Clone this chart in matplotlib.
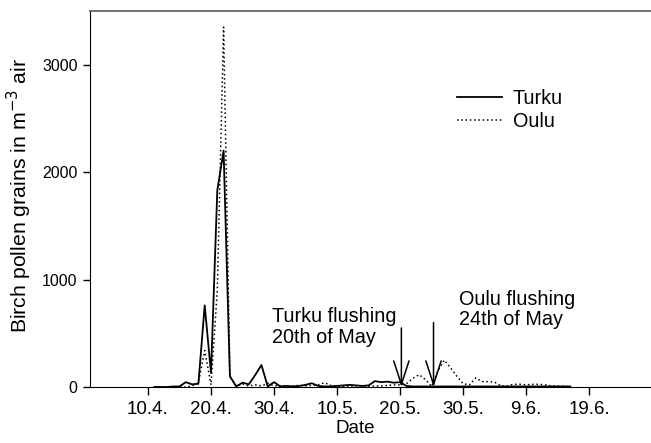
import matplotlib
matplotlib.use("Agg")
import matplotlib.pyplot as plt
import numpy as np

plt.rcParams["font.family"] = ["Liberation Sans", "DejaVu Sans"]

# days counted from 1st of April (10.4. = 10, 20.5. = 50, 19.6. = 80)
days = np.arange(11, 78)

turku = [0, 0, 0, 5, 5, 45, 25, 30, 760, 130,
         1830, 2200, 100, 5, 40, 25, 110, 205, 5, 45,
         5, 10, 5, 10, 20, 35, 10, 5, 5, 10,
         15, 20, 15, 10, 15, 55, 45, 50, 40, 45,
         10, 5, 5, 5, 5, 5, 5, 5, 5, 5,
         5, 5, 5, 5, 5, 5, 5, 5, 5, 5,
         5, 5, 5, 5, 5, 5, 5]

oulu = [0, 0, 0, 0, 0, 0, 10, 40, 340, 20,
        900, 3350, 100, 10, 30, 10, 20, 10, 35, 10,
        10, 5, 10, 15, 10, 15, 20, 40, 15, 10,
        5, 10, 10, 10, 5, 10, 10, 15, 20, 20,
        30, 80, 115, 70, 5, 150, 250, 180, 100, 30,
        20, 85, 50, 50, 45, 10, 10, 25, 25, 20,
        25, 25, 20, 10, 10, 5, 0]

tick_days = [10, 20, 30, 40, 50, 60, 70, 80]
tick_labels = ["10.4.", "20.4.", "30.4.", "10.5.", "20.5.", "30.5.", "9.6.", "19.6."]

fig = plt.figure(figsize=(6.51, 4.43), dpi=100)
ax = fig.add_axes([0.1382, 0.1264, 0.8618, 0.8488])

ax.plot(days, turku, color="black", lw=1.3, label="Turku")
ax.plot(days, oulu, color="black", lw=1.1, ls=(0, (1, 1.8)), label="Oulu")

ax.set_xlim(0.8, 89.8)
ax.set_ylim(0, 3500)
ax.set_xticks(tick_days)
ax.set_xticklabels(tick_labels)
ax.set_yticks([0, 1000, 2000, 3000])
ax.tick_params(axis="x", labelsize=13.5, length=6, width=1, pad=4)
ax.tick_params(axis="y", labelsize=11.5, length=5, width=1, pad=4)

ax.spines["right"].set_visible(False)
ax.spines["top"].set_color("#666666")
ax.spines["top"].set_linewidth(1.3)

ax.set_xlabel("Date", fontsize=13.5, va="top")
ax.xaxis.set_label_coords(0.472, -0.088)
ax.set_ylabel("Birch pollen grains in m$^{-3}$ air", fontsize=15.3)
ax.yaxis.set_label_coords(-0.1, 0.51)

ax.legend(loc="upper left", bbox_to_anchor=(0.622, 0.84), frameon=False,
          fontsize=14.3, handlelength=2.26, handletextpad=0.55, labelspacing=0.2)

arrow = dict(arrowstyle="->,head_length=1.7,head_width=0.55", color="black", lw=1.1,
             shrinkA=0, shrinkB=0)
ax.annotate("", xy=(50.2, 0), xytext=(50.2, 550), arrowprops=arrow)
ax.annotate("", xy=(55.3, 0), xytext=(55.3, 600), arrowprops=arrow)

ax.text(29.7, 745, "Turku flushing\n20th of May", fontsize=14.3, va="top", ha="left",
        linespacing=1.15)
ax.text(59.4, 905, "Oulu flushing\n24th of May", fontsize=14.3, va="top", ha="left",
        linespacing=1.1)

fig.savefig("out.png", dpi=100)
